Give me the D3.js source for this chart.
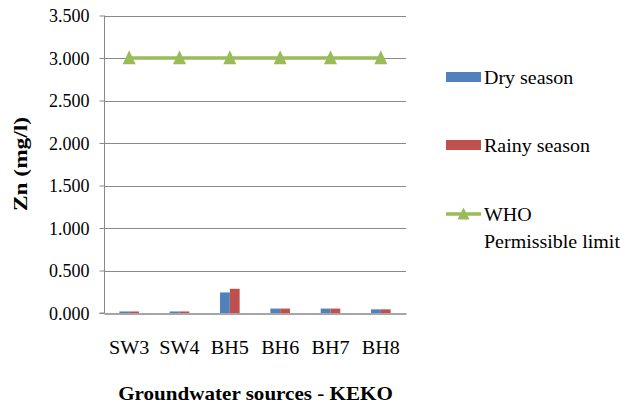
<!DOCTYPE html>
<html>
<head>
<meta charset="utf-8">
<script src="https://cdn.jsdelivr.net/npm/d3@7"></script>
<style>
  html, body { margin: 0; padding: 0; background: #ffffff; }
  svg { display: block; }
</style>
</head>
<body>
<svg id="chart" width="630" height="405"></svg>
<script>
// ---- data ----
const categories = ["SW3", "SW4", "BH5", "BH6", "BH7", "BH8"];
const drySeason = [0.018, 0.018, 0.242, 0.052, 0.052, 0.043];
const rainySeason = [0.018, 0.018, 0.285, 0.052, 0.052, 0.043];
const whoLimit = [3.0, 3.0, 3.0, 3.0, 3.0, 3.0];
const yTicks = [0, 0.5, 1.0, 1.5, 2.0, 2.5, 3.0, 3.5];
const seriesNames = ["Dry season", "Rainy season", "WHO", "Permissible limit"];
const axisTitles = { x: "Groundwater sources - KEKO", y: "Zn (mg/l)" };

const colors = { dry: "#4F81BD", rainy: "#C0504D", who: "#9BBB59", grid: "#898989" };
const FONT = "Liberation Serif";

const svg = d3.select("#chart");
const plot = { left: 104, right: 406, top: 15.5, bottom: 313 };

const x = d3.scaleBand().domain(categories).range([plot.left, plot.right]).padding(0);
const y = d3.scaleLinear().domain([0, 3.5]).range([plot.bottom, plot.top]);
const barW = 9.8;

// gridlines
svg.append("g").selectAll("line").data(yTicks.filter(d => d > 0)).join("line")
  .attr("x1", plot.left).attr("x2", plot.right)
  .attr("y1", d => Math.round(y(d)) + 0.5).attr("y2", d => Math.round(y(d)) + 0.5)
  .attr("stroke", colors.grid).attr("stroke-width", 1);

// y axis
const yAxis = d3.axisLeft(y).tickValues(yTicks).tickFormat(d3.format(".3f")).tickSize(5).tickPadding(10);
const yg = svg.append("g").attr("transform", `translate(${plot.left + 0.5},0)`).call(yAxis);
yg.attr("font-family", FONT).attr("font-size", 18);
yg.select(".domain").attr("stroke", colors.grid).attr("d", `M-5,${y(0)}H0V${y(3.5)}`);
yg.selectAll(".tick line").attr("stroke", colors.grid);
yg.selectAll(".tick text").attr("fill", "#000").attr("dy", "0.34em");

// bars
const barG = svg.append("g");
barG.selectAll("rect.dry").data(categories).join("rect").attr("class", "dry")
  .attr("x", d => x(d) + x.bandwidth() / 2 - barW)
  .attr("width", barW)
  .attr("y", (d, i) => y(drySeason[i]))
  .attr("height", (d, i) => y(0) - y(drySeason[i]))
  .attr("fill", colors.dry);
barG.selectAll("rect.rainy").data(categories).join("rect").attr("class", "rainy")
  .attr("x", d => x(d) + x.bandwidth() / 2)
  .attr("width", barW)
  .attr("y", (d, i) => y(rainySeason[i]))
  .attr("height", (d, i) => y(0) - y(rainySeason[i]))
  .attr("fill", colors.rainy);

// x axis
const xAxis = d3.axisBottom(x).tickSize(0).tickPadding(28);
const xg = svg.append("g").attr("transform", `translate(0,${plot.bottom + 0.5})`).call(xAxis);
xg.attr("font-family", FONT).attr("font-size", 18);
xg.select(".domain").attr("stroke", colors.grid).attr("stroke-width", 1.5);
xg.selectAll(".tick text").attr("fill", "#000").attr("transform", "scale(1.12,1)");

// WHO line
const tri = (cx, cy, w, h) => `M${cx},${cy - h * 0.55}L${cx + w / 2},${cy + h * 0.45}L${cx - w / 2},${cy + h * 0.45}Z`;
const line = d3.line().x((d, i) => x(categories[i]) + x.bandwidth() / 2).y(d => y(d));
svg.append("path").datum(whoLimit).attr("d", line)
  .attr("fill", "none").attr("stroke", colors.who).attr("stroke-width", 3.5);
svg.append("g").selectAll("path").data(whoLimit).join("path")
  .attr("d", (d, i) => tri(x(categories[i]) + x.bandwidth() / 2, y(d), 13, 14))
  .attr("fill", colors.who);

// axis titles
svg.append("text").attr("transform", "translate(255.5,400) scale(1.14,1)").attr("text-anchor", "middle")
  .attr("font-family", FONT).attr("font-size", 18.5).attr("font-weight", "bold").attr("fill", "#000")
  .text(axisTitles.x);
svg.append("text").attr("transform", "translate(27,164) rotate(-90) scale(1.3,1)").attr("text-anchor", "middle")
  .attr("font-family", FONT).attr("font-size", 18).attr("font-weight", "bold").attr("fill", "#000")
  .text(axisTitles.y);

// legend
const lg = svg.append("g");
function legendText(xp, yp, t) {
  lg.append("text").attr("transform", `translate(${xp},${yp}) scale(1.08,1)`)
    .attr("font-family", FONT).attr("font-size", 18.5).attr("fill", "#000").text(t);
}
lg.append("rect").attr("x", 446).attr("y", 72).attr("width", 35).attr("height", 10).attr("fill", colors.dry);
legendText(484, 84, seriesNames[0]);
lg.append("rect").attr("x", 446).attr("y", 140).attr("width", 35).attr("height", 10).attr("fill", colors.rainy);
legendText(484, 152, seriesNames[1]);
lg.append("line").attr("x1", 446).attr("x2", 481).attr("y1", 214).attr("y2", 214)
  .attr("stroke", colors.who).attr("stroke-width", 3.5);
lg.append("path").attr("d", tri(463.5, 214, 12, 12)).attr("fill", colors.who);
legendText(484, 221, seriesNames[2]);
legendText(484, 248, seriesNames[3]);
</script>
</body>
</html>
